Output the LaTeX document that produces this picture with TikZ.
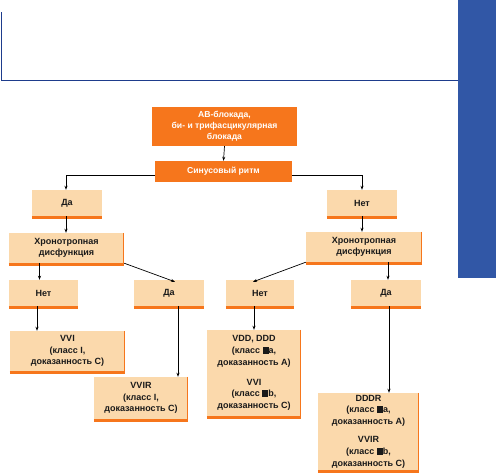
\documentclass[tikz,border=0pt]{standalone}
\usepackage{fontspec}
\setmainfont{Liberation Sans}
\usetikzlibrary{arrows.meta,calc}
\definecolor{orng}{HTML}{F6761C}
\definecolor{peach}{HTML}{FBD9AC}
\definecolor{navy}{HTML}{1E3C8C}
\definecolor{blueband}{HTML}{3157A6}
\definecolor{txt}{HTML}{1A1A1A}
\newcommand{\blk}{\rule[-0.5pt]{6pt}{7pt}}
\tikzset{
  box/.style={fill=peach, draw=none, inner sep=0pt, align=center, text=txt,
    font=\fontsize{9}{11.8}\selectfont\bfseries},
  hbox/.style={box, font=\fontsize{9}{10.5}\selectfont\bfseries},
  obox/.style={fill=orng, draw=none, inner sep=0pt, align=center, text=white,
    font=\fontsize{8.6}{11}\selectfont\bfseries},
  arr/.style={-{Stealth[length=4pt,width=3pt]}, line width=0.7pt, black},
  edge/.style={orng, line width=2.5pt}
}
\begin{document}
\begin{tikzpicture}[x=1pt,y=-1pt]
\useasboundingbox (0,0) rectangle (496,474);
\fill[white] (0,0) rectangle (496,474);
% frame
\fill[blueband] (458,0) rectangle (496,278);
\draw[navy, line width=0.9pt] (1.5,12) -- (1.5,80) -- (458,80);
% nodes
\node[obox, minimum width=145, minimum height=39] (top) at (224.5,126.5) {АВ-блокада,\\би- и трифасцикулярная\\блокада};
\node[obox, minimum width=137, minimum height=21] (sin) at (223.5,171.5) {Синусовый ритм};
\node[box, minimum width=70, minimum height=26] (da1) at (67,203) {Да};
\node[box, minimum width=70, minimum height=26] (net1) at (362,203) {Нет};
\node[hbox, minimum width=115, minimum height=30] (hr1) at (66.5,248) {Хронотропная\\дисфункция};
\node[hbox, minimum width=116, minimum height=30] (hr2) at (364,247) {Хронотропная\\дисфункция};
\node[box, minimum width=69, minimum height=26] (n2) at (43.5,293) {Нет};
\node[box, minimum width=70, minimum height=26] (d2) at (169,293) {Да};
\node[box, minimum width=68, minimum height=26] (n3) at (260,293) {Нет};
\node[box, minimum width=70, minimum height=26] (d3) at (386,293) {Да};
\node[box, minimum width=115, minimum height=40] (vvi) at (67.5,351) {VVI\\(класс I,\\доказанность C)};
\node[box, minimum width=94, minimum height=42] (vvir) at (141,398) {VVIR\\(класс I,\\доказанность C)};
\node[box, minimum width=94, minimum height=86] (vdd) at (254,373) {VDD, DDD\\(класс \blk a,\\доказанность A)\\[8pt]VVI\\(класс \blk b,\\доказанность C)};
\node[box, minimum width=101, minimum height=77] (dddr) at (368.5,431.5) {DDDR\\(класс \blk a,\\доказанность A)\\[6pt]VVIR\\(класс \blk b,\\доказанность C)};
% orange bottom edges
\foreach \n in {da1,net1,hr1,hr2,n2,d2,n3,d3,vvi,vvir,vdd,dddr}{
  \draw[edge] ([yshift=-1.25]\n.south west) -- ([yshift=-1.25]\n.south east);
}
\foreach \n in {hr1,hr2,vvi,vvir,vdd,dddr}{
  \draw[orng, line width=1.5pt] ([xshift=-0.75]\n.north east) -- ([xshift=-0.75]\n.south east);
}
% connectors
\draw[arr] (top.south) -- (sin.north);
\draw[arr] ([yshift=-3.5]sin.west) -| ([xshift=-1]da1.north);
\draw[arr] ([yshift=-3.5]sin.east) -| (net1.north);
\draw[arr] ([xshift=-1]da1.south) -- ([xshift=-1]da1.south |- hr1.north);
\draw[arr] (net1.south) -- (net1.south |- hr2.north);
\draw[arr] ([xshift=-27]hr1.south) -- ([xshift=-27]hr1.south |- n2.north);
\draw[arr] (hr1.south east) -- ([xshift=6,yshift=-2]d2.north);
\draw[arr] (hr2.south west) -- ([xshift=-7,yshift=-2]n3.north);
\draw[arr] ([xshift=2]d3.north |- hr2.south) -- ([xshift=2]d3.north);
\draw[arr] ([xshift=-6.5]n2.south) -- ([xshift=-6.5]n2.south |- vvi.north);
\draw[arr] ([xshift=9]d2.south) -- ([xshift=9]d2.south |- vvir.north);
\draw[arr] (vdd.north |- n3.south) -- (vdd.north);
\draw[arr] ([xshift=3]d3.south) -- ([xshift=3]d3.south |- dddr.north);
\end{tikzpicture}
\end{document}
